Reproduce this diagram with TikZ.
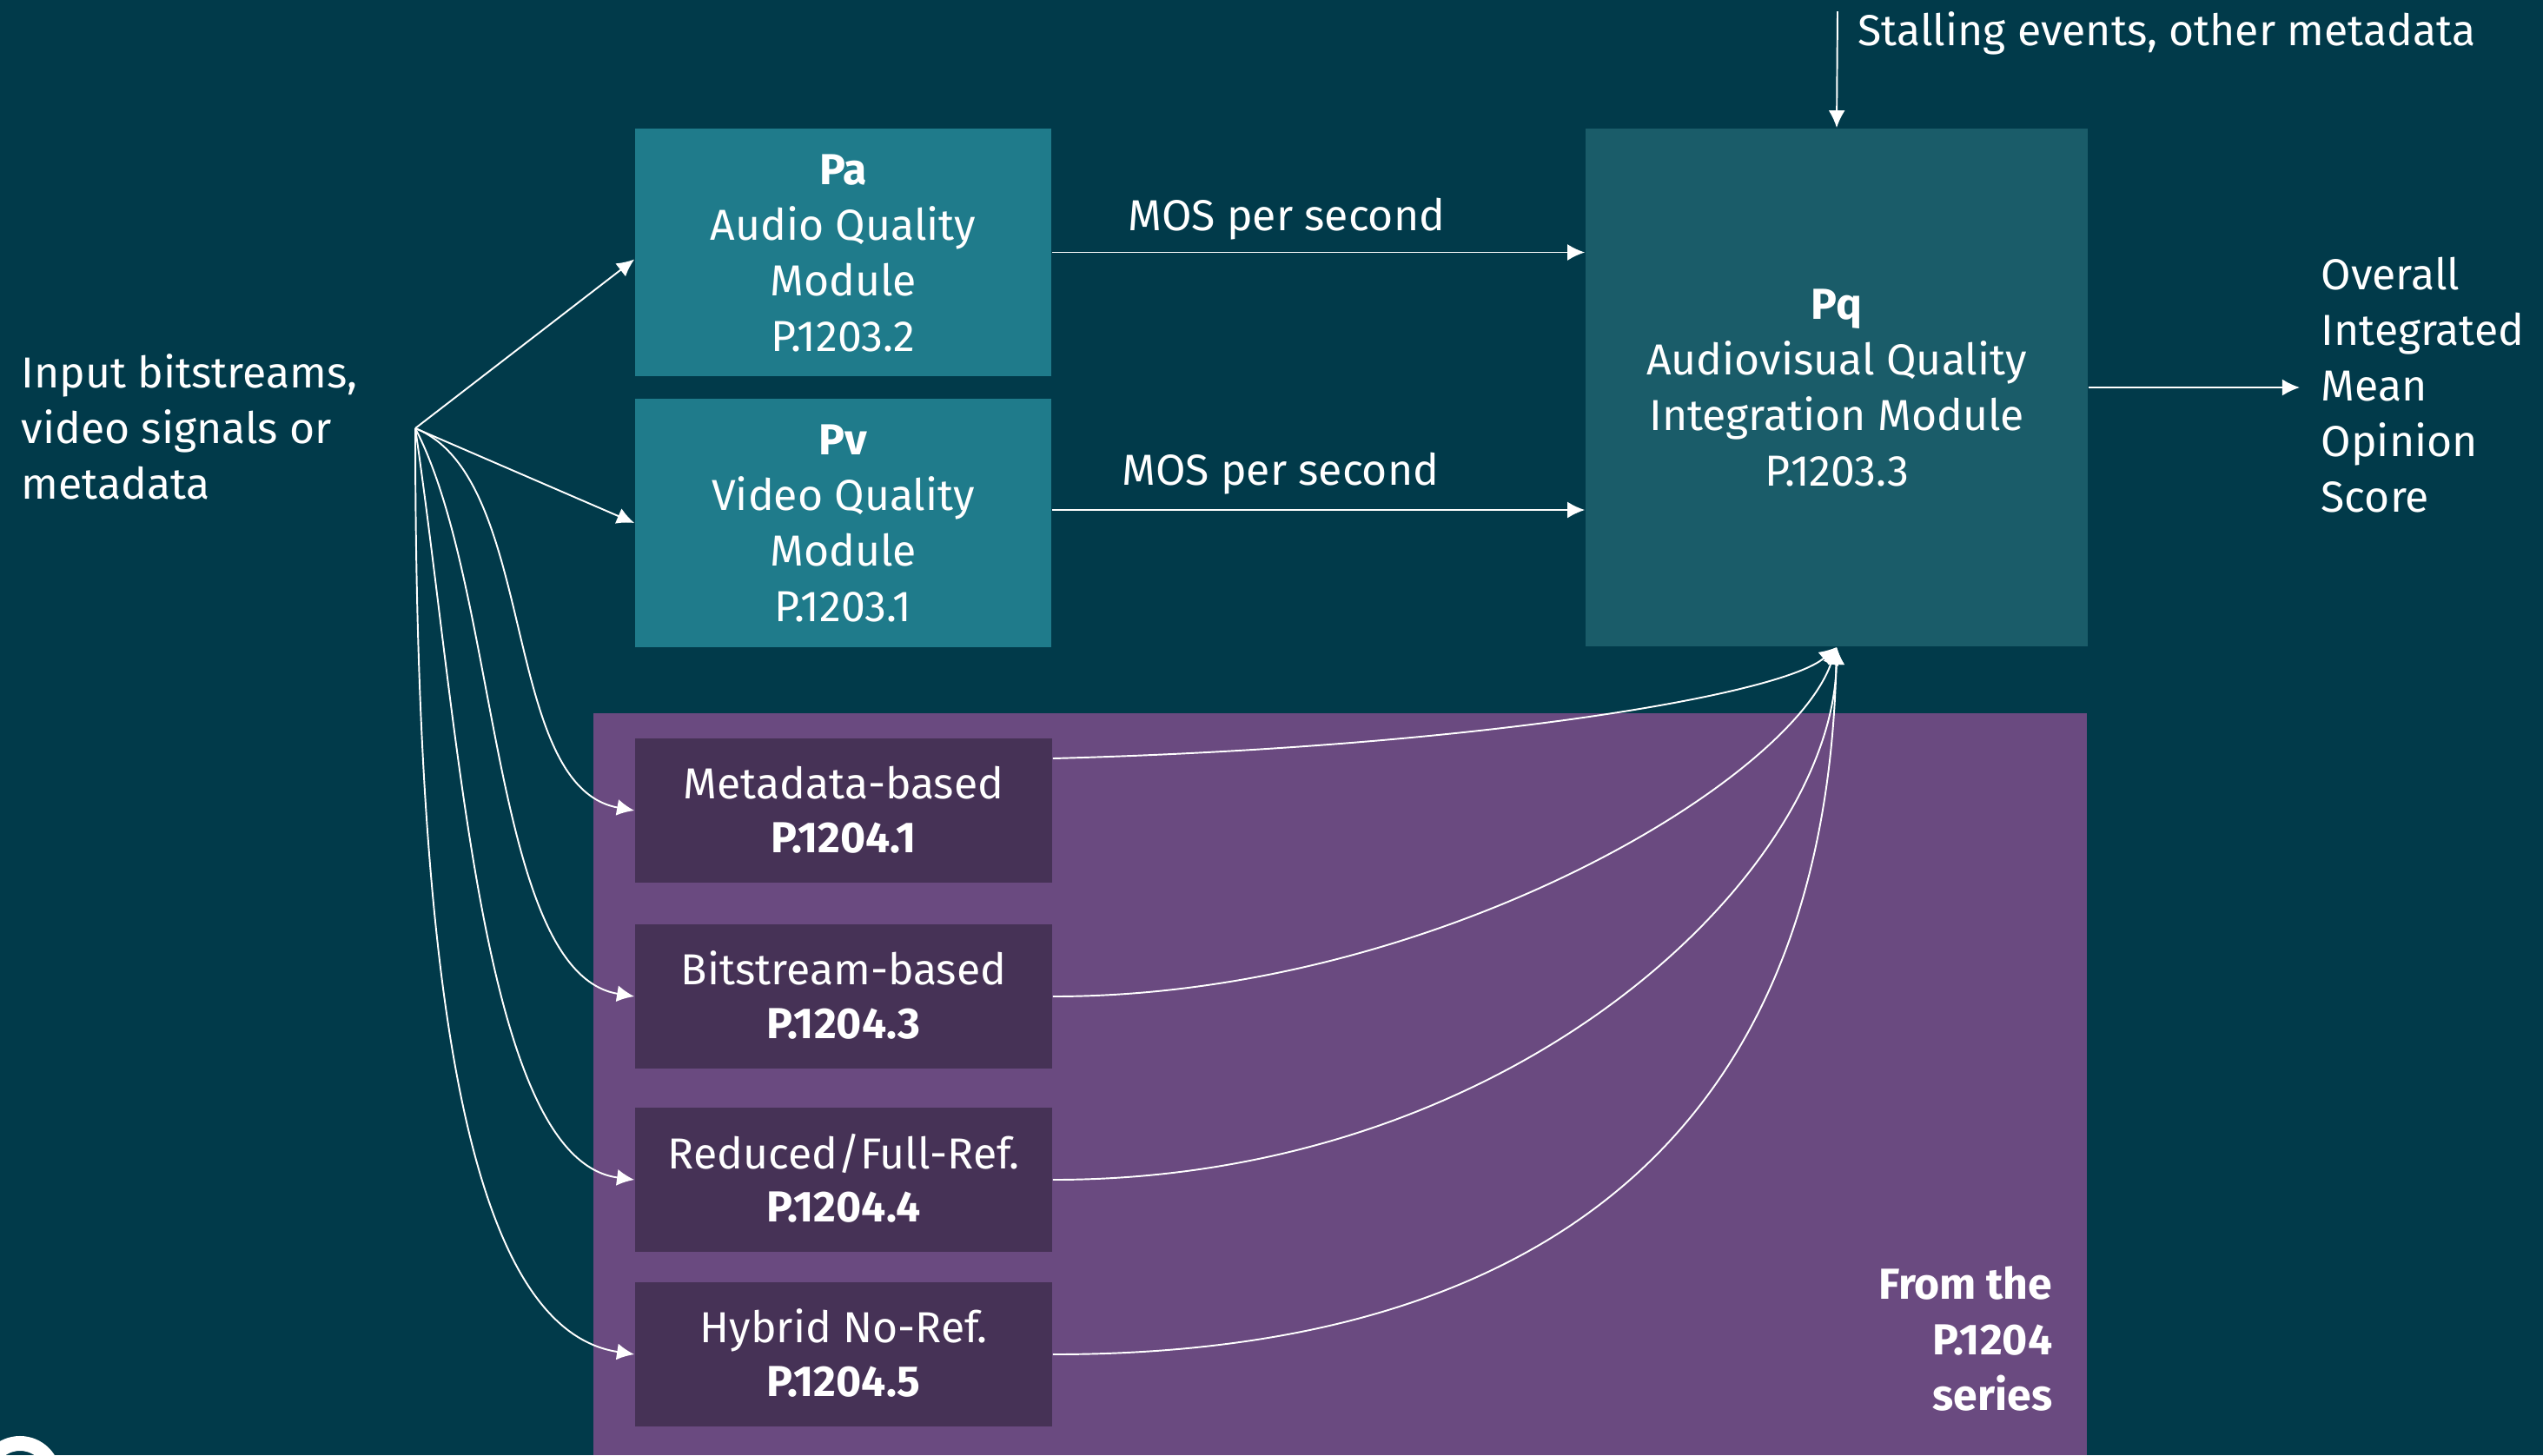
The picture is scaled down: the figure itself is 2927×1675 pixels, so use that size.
\documentclass[tikz,border=0pt]{standalone}
\usepackage{fontspec}
\setmainfont{Fira Sans}
\usetikzlibrary{arrows.meta,calc}
\definecolor{bgteal}{HTML}{013A4A}
\definecolor{modteal}{HTML}{1F7B8B}
\definecolor{pqteal}{HTML}{1A5C69}
\definecolor{regpurple}{HTML}{6A4A80}
\definecolor{boxpurple}{HTML}{463256}
\newcommand{\topst}{\rule{0pt}{11.38pt}}
\newcommand{\botst}{\rule[-1.42pt]{0pt}{0pt}}
\begin{document}
\begin{tikzpicture}[x=0.01cm,y=-0.01cm,
  txt/.style={text=white,inner sep=0pt,font=\fontsize{14.2}{18.2}\selectfont},
  modbox/.style={txt,fill=modteal,minimum width=4.79cm,minimum height=2.85cm,align=center},
  pqbox/.style={txt,fill=pqteal,minimum width=5.78cm,minimum height=5.96cm,align=center},
  stdbox/.style={txt,fill=boxpurple,minimum width=4.80cm,minimum height=1.66cm,align=center,
    font=\fontsize{14.2}{17.4}\selectfont},
  arr/.style={white,line width=0.55pt,-{Latex[length=5.7pt,width=5.4pt]}},
  plain/.style={white,line width=0.55pt}]
\useasboundingbox (0,0) rectangle (2927,1675);
\fill[bgteal] (0,0) rectangle (2927,1675);
\begin{scope}
  \clip (0,0) rectangle (2927,1675);
  \draw[white,line width=4.84pt] (23,1700) circle[radius=0.385cm];
\end{scope}
\fill[regpurple] (683,821) rectangle (2402,1675);

% boxes
\node[modbox] (pa) at (970.5,290.5) {\topst\textbf{Pa}\\Audio Quality\\Module\\P.1203.2\botst};
\node[modbox] (pv) at (970.5,602) {\topst\textbf{Pv}\\Video Quality\\Module\\P.1203.1\botst};
\node[pqbox] (pq) at (2114,446) {\topst\textbf{Pq}\\Audiovisual Quality\\Integration Module\\P.1203.3\botst};
\node[stdbox] (m1) at (971,933) {\topst Metadata-based\\\textbf{P.1204.1}\botst};
\node[stdbox] (m3) at (971,1147) {\topst Bitstream-based\\\textbf{P.1204.3}\botst};
\node[stdbox] (m4) at (971,1358) {\topst Reduced/Full-Ref.\\\textbf{P.1204.4}\botst};
\node[stdbox] (m5) at (971,1559) {\topst Hybrid No-Ref.\\\textbf{P.1204.5}\botst};

% labels
\node[txt,anchor=north west,align=left] (input) at (24,406) {\topst Input bitstreams,\\video signals or\\metadata};
\node[txt,anchor=north west,align=left] (out) at (2671,293) {\topst Overall\\Integrated\\Mean\\Opinion\\Score};
\node[txt,anchor=north east,align=right,font=\fontsize{14.2}{18.2}\selectfont\bfseries] (series) at (2363,1455) {\topst From the\\P.1204\\series};
\node[txt,anchor=base] (mos1) at (1481,265) {MOS per second};
\node[txt,anchor=base] (mos2) at (1474,558) {MOS per second};
\node[txt,anchor=base west] (stall) at (2138,52) {Stalling events, other metadata};

% coordinates
\coordinate (src) at (478,493);
\coordinate (stalltop) at (2115,13);
\coordinate (outend) at (2647,446);

% straight arrows
\draw[arr] (src) -- ($(pa.west)+(0,8)$);
\draw[arr] (src) -- (pv.west);
\draw[arr] (pa.east) -- (pa.east -| pq.west);
\draw[arr] ($(pv.east)+(0,-15)$) -- ($(pv.east -| pq.west)+(0,-15)$);
\draw[arr] (stalltop) -- (pq.north);
\draw[arr] (pq.east) -- (outend);

% fan to P.1204 boxes
\draw[arr] (src) .. controls (620,550) and (575,905) .. (m1.west);
\draw[arr] (src) .. controls (575,680) and (565,1120) .. (m3.west);
\draw[arr] (src) .. controls (530,850) and (555,1335) .. (m4.west);
\draw[arr] (src) .. controls (478,1150) and (540,1530) .. (m5.west);

% to Pq
\draw[arr] ($(m1.east)+(0,-60)$) .. controls (1700,860) and (2050,800) .. (pq.south);
\draw[arr] (m3.east) .. controls (1650,1147) and (2060,900) .. (pq.south);
\draw[arr] (m4.east) .. controls (1750,1358) and (2110,1000) .. (pq.south);
\draw[arr] (m5.east) .. controls (1750,1559) and (2100,1326) .. (pq.south);
\end{tikzpicture}
\end{document}
